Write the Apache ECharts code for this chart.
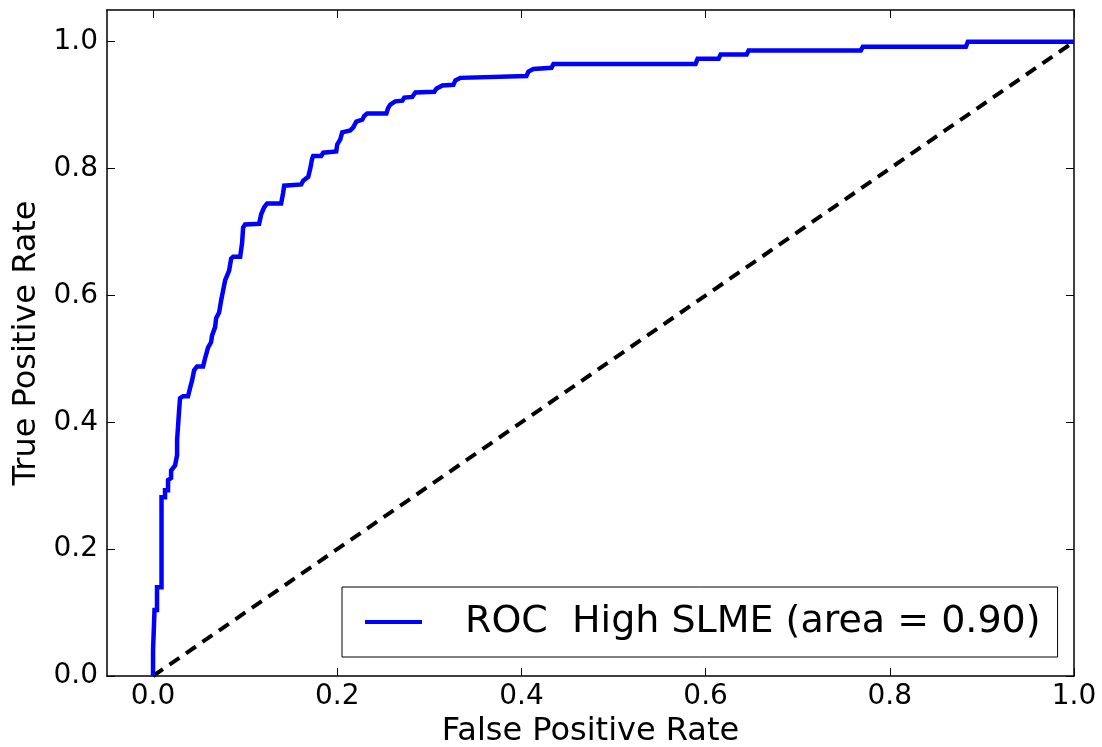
<!DOCTYPE html>
<html>
<head>
<meta charset="utf-8">
<script src="https://cdn.jsdelivr.net/npm/echarts@6/dist/echarts.min.js"></script>
<style>
html,body{margin:0;padding:0;background:#fff;}
#chart{width:1102px;height:747px;}
</style>
</head>
<body>
<div id="chart"></div>
<script>
// ROC curve vertices (false positive rate, true positive rate)
const fpr = [0, 0, 0.0016, 0.0016, 0.0043, 0.0043, 0.0092, 0.0092, 0.013, 0.013, 0.0163, 0.0163, 0.0196, 0.0196, 0.0239, 0.0261, 0.0261, 0.0272, 0.0283, 0.0293, 0.0326, 0.038, 0.0402, 0.0424, 0.0446, 0.0478, 0.0543, 0.0565, 0.0598, 0.063, 0.0641, 0.0674, 0.0685, 0.0717, 0.0739, 0.0761, 0.0783, 0.0826, 0.0848, 0.087, 0.0946, 0.0967, 0.0978, 0.1, 0.1152, 0.1174, 0.1207, 0.1239, 0.1391, 0.1413, 0.1424, 0.1609, 0.163, 0.1685, 0.1707, 0.1728, 0.1739, 0.1826, 0.1848, 0.1989, 0.2, 0.2033, 0.2054, 0.2141, 0.2174, 0.2207, 0.2272, 0.2293, 0.2326, 0.2533, 0.2554, 0.2576, 0.263, 0.2707, 0.2728, 0.2815, 0.2848, 0.3054, 0.3076, 0.3141, 0.3261, 0.3283, 0.3337, 0.3348, 0.4054, 0.4076, 0.413, 0.4326, 0.4348, 0.5891, 0.5913, 0.6141, 0.6163, 0.6446, 0.6467, 0.7685, 0.7707, 0.8826, 0.8848, 1.0];
const tpr = [0, 0.041, 0.041, 0.104, 0.104, 0.140, 0.140, 0.282, 0.282, 0.293, 0.293, 0.309, 0.312, 0.324, 0.332, 0.348, 0.372, 0.395, 0.419, 0.438, 0.441, 0.441, 0.454, 0.466, 0.482, 0.488, 0.488, 0.501, 0.518, 0.526, 0.537, 0.550, 0.564, 0.573, 0.592, 0.608, 0.624, 0.639, 0.658, 0.661, 0.661, 0.683, 0.707, 0.712, 0.713, 0.728, 0.739, 0.745, 0.745, 0.762, 0.773, 0.775, 0.781, 0.787, 0.800, 0.816, 0.820, 0.820, 0.825, 0.827, 0.838, 0.846, 0.857, 0.860, 0.865, 0.874, 0.877, 0.883, 0.887, 0.887, 0.896, 0.901, 0.906, 0.907, 0.912, 0.913, 0.920, 0.921, 0.926, 0.931, 0.932, 0.939, 0.943, 0.946, 0.946, 0.953, 0.957, 0.959, 0.965, 0.965, 0.973, 0.973, 0.980, 0.980, 0.986, 0.986, 0.992, 0.992, 1.0, 1.0];
const chanceX = [0, 1];
const chanceY = [0, 1];
const xTicks = [0.0, 0.2, 0.4, 0.6, 0.8, 1.0];
const yTicks = [0.0, 0.2, 0.4, 0.6, 0.8, 1.0];
const seriesName = 'ROC  High SLME (area = 0.90)';
const xTitle = 'False Positive Rate';
const yTitle = 'True Positive Rate';

const FONT = 'DejaVu Sans';
const rocData = fpr.map((x, i) => [x, tpr[i]]);
const chanceData = chanceX.map((x, i) => [x, chanceY[i]]);

const frameLine = {show: true, onZero: false, lineStyle: {color: '#000', width: 1.5}};
const tickIn = {show: true, inside: true, length: 8, lineStyle: {color: '#000', width: 1}};

const chart = echarts.init(document.getElementById('chart'));
chart.setOption({
  backgroundColor: '#fff',
  animation: false,
  grid: {left: 107, right: 28, top: 10, bottom: 71, containLabel: false, outerBoundsMode: 'none'},
  legend: {
    left: 342, top: 587,
    orient: 'horizontal',
    data: [{name: seriesName, icon: 'rect'}],
    itemWidth: 57, itemHeight: 4,
    borderColor: '#000', borderWidth: 1,
    padding: [13, 17, 13, 23],
    textStyle: {fontFamily: FONT, fontSize: 38, color: '#000', padding: [0, 0, 0, 38], lineHeight: 44},
    selectedMode: false
  },
  xAxis: [{
    type: 'value', min: -0.05, max: 1.0, position: 'bottom',
    axisLine: frameLine,
    axisTick: Object.assign({customValues: xTicks}, tickIn),
    axisLabel: {customValues: xTicks, color: '#000', fontFamily: FONT, fontSize: 28, margin: 7,
      formatter: v => v.toFixed(1)},
    splitLine: {show: false},
    name: xTitle, nameLocation: 'middle', nameGap: 37,
    nameTextStyle: {fontFamily: FONT, fontSize: 32, color: '#000'}
  }, {
    type: 'value', min: -0.05, max: 1.0, position: 'top',
    axisLine: frameLine,
    axisTick: Object.assign({customValues: xTicks}, tickIn),
    axisLabel: {show: false},
    splitLine: {show: false}
  }],
  yAxis: [{
    type: 'value', min: 0, max: 1.05, position: 'left',
    axisLine: frameLine,
    axisTick: Object.assign({customValues: yTicks}, tickIn),
    axisLabel: {customValues: yTicks, color: '#000', fontFamily: FONT, fontSize: 28, margin: 9,
      formatter: v => v.toFixed(1)},
    splitLine: {show: false},
    name: yTitle, nameLocation: 'middle', nameGap: 64, nameRotate: 90,
    nameTextStyle: {fontFamily: FONT, fontSize: 32, color: '#000'}
  }, {
    type: 'value', min: 0, max: 1.05, position: 'right',
    axisLine: frameLine,
    axisTick: Object.assign({customValues: yTicks}, tickIn),
    axisLabel: {show: false},
    splitLine: {show: false}
  }],
  series: [{
    name: seriesName, type: 'line', xAxisIndex: 0, yAxisIndex: 0,
    data: rocData, showSymbol: false, symbol: 'none',
    lineStyle: {color: '#0000ff', width: 4.5, join: 'miter'},
    itemStyle: {color: '#0000ff'},
    z: 3
  }, {
    name: 'chance', type: 'line', xAxisIndex: 0, yAxisIndex: 0,
    data: chanceData, showSymbol: false, symbol: 'none',
    lineStyle: {color: '#000', width: 4, type: [12, 8]},
    z: 2
  }]
});
</script>
</body>
</html>
